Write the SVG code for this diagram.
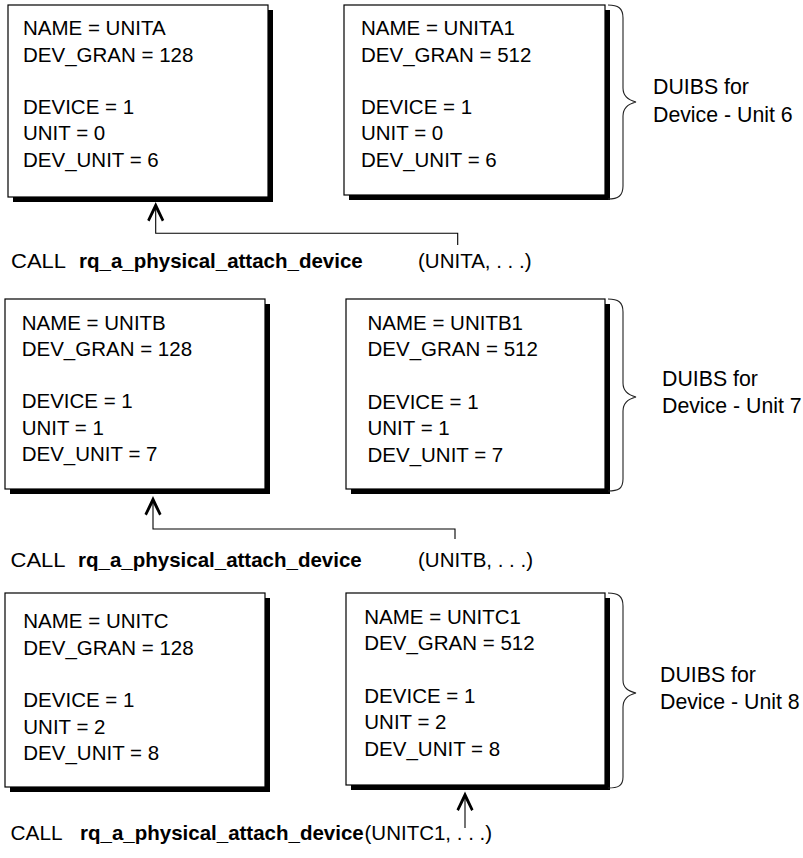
<svg xmlns="http://www.w3.org/2000/svg" width="803" height="858" viewBox="0 0 803 858">
  <style>
    text { font-family: "Liberation Sans", Arial, sans-serif; font-size: 20.5px; fill: #000; }
    .b { font-weight: bold; }
    .lbl { font-size: 21.3px; }
    .box { fill: #fff; stroke: #000; stroke-width: 1.2; }
    .shadow { fill: #000; }
    .brace { fill: none; stroke: #222; stroke-width: 1.1; }
    .wire { fill: none; stroke: #000; stroke-width: 1.1; }
  </style>
  <defs>
    <path id="head" d="M0,0 L8.5,18 L6.2,19.6 L0,7 L-6.2,19.6 L-8.5,18 Z" fill="#000"/>
  </defs>
  <rect width="803" height="858" fill="#fff"/>

  <!-- Row 1: DUIBs for device unit 6 -->
  <g id="duib-unita">
    <rect class="shadow" x="13" y="10" width="260" height="192"/>
    <rect class="box" x="8" y="5" width="260" height="192"/>
    <text x="23" y="35">NAME = UNITA</text>
    <text x="23" y="61.5">DEV_GRAN = 128</text>
    <text x="23" y="114">DEVICE = 1</text>
    <text x="23" y="140.3">UNIT = 0</text>
    <text x="23" y="166.6">DEV_UNIT = 6</text>
  </g>
  <g id="duib-unita1">
    <rect class="shadow" x="349" y="10" width="261" height="190"/>
    <rect class="box" x="344" y="5" width="261" height="190"/>
    <text x="361" y="35">NAME = UNITA1</text>
    <text x="361" y="61.5">DEV_GRAN = 512</text>
    <text x="361" y="114">DEVICE = 1</text>
    <text x="361" y="140.3">UNIT = 0</text>
    <text x="361" y="166.6">DEV_UNIT = 6</text>
  </g>
  <g id="label-unit6">
    <path class="brace" d="M608,5 C618,5 623,8 623,18 L623,88 C623,96 628,100 636,102 C628,104 623,108 623,116 L623,186 C623,196 618,199 608,199"/>
    <text class="lbl" x="653" y="94">DUIBS for</text>
    <text class="lbl" x="653" y="122">Device - Unit 6</text>
  </g>
  <g id="call-unita">
    <text x="11" y="267.5" textLength="55" lengthAdjust="spacingAndGlyphs">CALL</text>
    <text class="b" x="79" y="267.5">rq_a_physical_attach_device</text>
    <text x="418" y="267.5">(UNITA, . . .)</text>
  </g>

  <!-- Row 2: DUIBs for device unit 7 -->
  <g id="duib-unitb">
    <rect class="shadow" x="10" y="304" width="260" height="190"/>
    <rect class="box" x="5" y="299" width="260" height="190"/>
    <text x="21.7" y="329.5">NAME = UNITB</text>
    <text x="21.7" y="355.8">DEV_GRAN = 128</text>
    <text x="21.7" y="408.4">DEVICE = 1</text>
    <text x="21.7" y="434.7">UNIT = 1</text>
    <text x="21.7" y="461">DEV_UNIT = 7</text>
  </g>
  <g id="duib-unitb1">
    <rect class="shadow" x="351" y="304" width="259" height="190"/>
    <rect class="box" x="346" y="299" width="259" height="190"/>
    <text x="367.5" y="330">NAME = UNITB1</text>
    <text x="367.5" y="356.3">DEV_GRAN = 512</text>
    <text x="367.5" y="408.9">DEVICE = 1</text>
    <text x="367.5" y="435.2">UNIT = 1</text>
    <text x="367.5" y="461.5">DEV_UNIT = 7</text>
  </g>
  <g id="label-unit7">
    <path class="brace" d="M608,299 C618,299 623,302 623,312 L623,383 C623,391 628,395 636,397 C628,399 623,403 623,411 L623,479 C623,489 618,491 608,491"/>
    <text class="lbl" x="662" y="386">DUIBS for</text>
    <text class="lbl" x="662" y="413.3">Device - Unit 7</text>
  </g>
  <g id="call-unitb">
    <text x="10.5" y="567" textLength="55" lengthAdjust="spacingAndGlyphs">CALL</text>
    <text class="b" x="78" y="567">rq_a_physical_attach_device</text>
    <text x="418" y="567">(UNITB, . . .)</text>
  </g>

  <!-- Row 3: DUIBs for device unit 8 -->
  <g id="duib-unitc">
    <rect class="shadow" x="10" y="598" width="260" height="194"/>
    <rect class="box" x="5" y="593" width="260" height="194"/>
    <text x="23.3" y="628.3">NAME = UNITC</text>
    <text x="23.3" y="654.6">DEV_GRAN = 128</text>
    <text x="23.3" y="707.2">DEVICE = 1</text>
    <text x="23.3" y="733.5">UNIT = 2</text>
    <text x="23.3" y="759.8">DEV_UNIT = 8</text>
  </g>
  <g id="duib-unitc1">
    <rect class="shadow" x="351" y="598" width="259" height="192"/>
    <rect class="box" x="346" y="593" width="259" height="192"/>
    <text x="364.3" y="624">NAME = UNITC1</text>
    <text x="364.3" y="650.3">DEV_GRAN = 512</text>
    <text x="364.3" y="702.9">DEVICE = 1</text>
    <text x="364.3" y="729.2">UNIT = 2</text>
    <text x="364.3" y="755.5">DEV_UNIT = 8</text>
  </g>
  <g id="label-unit8">
    <path class="brace" d="M608,593 C618,593 623,596 623,606 L623,680 C623,688 628,691 636,693 C628,695 623,699 623,707 L623,777 C623,786 618,788 608,788"/>
    <text class="lbl" x="660" y="681.7">DUIBS for</text>
    <text class="lbl" x="660" y="708.5">Device - Unit 8</text>
  </g>
  <g id="call-unitc1">
    <text x="10.5" y="840" textLength="52" lengthAdjust="spacingAndGlyphs">CALL</text>
    <text class="b" x="80" y="840">rq_a_physical_attach_device</text>
    <text x="364.5" y="840">(UNITC1, . . .)</text>
  </g>

  <!-- Connectors: each call points at the DUIB it attaches -->
  <g id="connectors">
    <path class="wire" d="M457.7,245 L457.7,233.3 L155.7,233.3 L155.7,206"/>
    <use href="#head" x="155.7" y="202"/>
    <path class="wire" d="M455,539 L455,529 L153,529 L153,500"/>
    <use href="#head" x="153" y="496"/>
    <path class="wire" d="M465,828 L465,796"/>
    <use href="#head" x="465" y="791.5"/>
  </g>
</svg>
